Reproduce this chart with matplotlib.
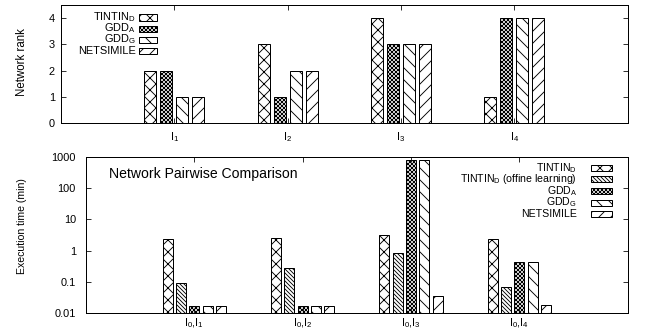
import matplotlib
matplotlib.use("Agg")
import matplotlib.pyplot as plt
import numpy as np
from matplotlib.patches import Rectangle

plt.rcParams['font.family'] = ['Liberation Sans', 'DejaVu Sans']
plt.rcParams['mathtext.default'] = 'regular'
plt.rcParams['hatch.linewidth'] = 0.9

# ---- data ----
rank_categories = ['I$_1$', 'I$_2$', 'I$_3$', 'I$_4$']
rank_series = ['TINTIN$_D$', 'GDD$_A$', 'GDD$_G$', 'NETSIMILE']
rank_tintin = [2, 3, 4, 1]
rank_gdda = [2, 1, 3, 4]
rank_gddg = [1, 2, 3, 4]
rank_netsimile = [1, 2, 3, 4]

time_categories = ['I$_0$,I$_1$', 'I$_0$,I$_2$', 'I$_0$,I$_3$', 'I$_0$,I$_4$']
time_series = ['TINTIN$_D$', 'TINTIN$_D$ (offine learning)', 'GDD$_A$', 'GDD$_G$', 'NETSIMILE']
time_tintin = [2.4, 2.6, 3.1, 2.35]
time_tintin_offline = [0.095, 0.28, 0.85, 0.07]
time_gdda = [0.017, 0.017, 760, 0.43]
time_gddg = [0.017, 0.017, 760, 0.43]
time_netsimile = [0.017, 0.017, 0.037, 0.018]

W, H = 646, 330
fig = plt.figure(figsize=(W / 72, H / 72), dpi=72)

def fx(px):
    return px / W

def fy(py):
    return 1 - py / H

FS = 11

def style_axes(ax):
    for s in ax.spines.values():
        s.set_linewidth(1.0)
    ax.tick_params(direction='in', length=5, width=0.8, top=True, right=True,
                   labelsize=FS, which='major')
    ax.tick_params(which='minor', length=0)

# ---- top panel ----
ax1 = fig.add_axes([fx(61), fy(123.3), fx(627.7) - fx(61), (123.3 - 5) / H])
x = np.arange(1, len(rank_categories) + 1)
rank_vals = [rank_tintin, rank_gdda, rank_gddg, rank_netsimile]
rank_hatches = ['xx', 'xxxxxx', '\\\\', '//']
pitch1 = 16 / 113.3
width1 = 12 / 113.3
for i, (vals, h) in enumerate(zip(rank_vals, rank_hatches)):
    ax1.bar(x + (i - 1.5) * pitch1, vals, width1, facecolor='white',
            edgecolor='black', linewidth=1.0, hatch=h)
ax1.set_xlim(0, 5)
ax1.set_ylim(0, 4.5)
ax1.set_yticks([0, 1, 2, 3, 4])
ax1.set_xticks(x)
ax1.set_xticklabels(rank_categories)
style_axes(ax1)
ax1.tick_params(axis='x', pad=7)
ax1.tick_params(axis='y', pad=6)

# ---- bottom panel ----
ax2 = fig.add_axes([fx(86), fy(313.3), fx(627.7) - fx(86), (313.3 - 156.7) / H])
time_vals = [time_tintin, time_tintin_offline, time_gdda, time_gddg, time_netsimile]
time_hatches = ['xx', '\\\\\\\\\\\\', 'xxxxxx', '\\\\', '//']
pitch2 = 13.3 / 108
width2 = 10 / 108
for i, (vals, h) in enumerate(zip(time_vals, time_hatches)):
    ax2.bar(x + (i - 2) * pitch2, vals, width2, facecolor='white',
            edgecolor='black', linewidth=1.0, hatch=h)
ax2.set_yscale('log')
ax2.set_xlim(0, 5)
ax2.set_ylim(0.01, 1000)
ax2.set_yticks([0.01, 0.1, 1, 10, 100, 1000])
ax2.set_yticklabels(['0.01', '0.1', '1', '10', '100', '1000'])
ax2.minorticks_off()
ax2.set_xticks(x)
ax2.set_xticklabels(time_categories)
style_axes(ax2)
ax2.tick_params(axis='x', pad=3)
ax2.tick_params(axis='y', pad=10)

# ---- labels ----
fig.text(fx(22), fy(62), 'Network rank', rotation=90, ha='center', va='center', fontsize=11.5)
fig.text(fx(22), fy(226), 'Execution time (min)', rotation=90, ha='center', va='center', fontsize=10.5)
fig.text(fx(109), fy(174), 'Network Pairwise Comparison', ha='left', va='center', fontsize=14)

# ---- legends (gnuplot style: right-aligned text, sample on the right) ----
def legend(labels, hatches, rows, text_right, box_left, box_w, box_h, fs):
    for lab, h, ry in zip(labels, hatches, rows):
        fig.text(fx(text_right), fy(ry), lab, ha='right', va='center', fontsize=fs)
        r = Rectangle((fx(box_left), fy(ry + box_h / 2)), box_w / W, box_h / H,
                      transform=fig.transFigure, facecolor='white', edgecolor='black',
                      linewidth=1.0, hatch=h)
        fig.add_artist(r)

legend(rank_series, rank_hatches, [17.5, 28.5, 39.5, 50.5], 136, 139, 18, 6, 11)
legend(time_series, time_hatches, [168, 179.5, 191, 202.5, 214], 577, 591, 21, 6, 10.5)

fig.savefig('out.png', dpi=72)
